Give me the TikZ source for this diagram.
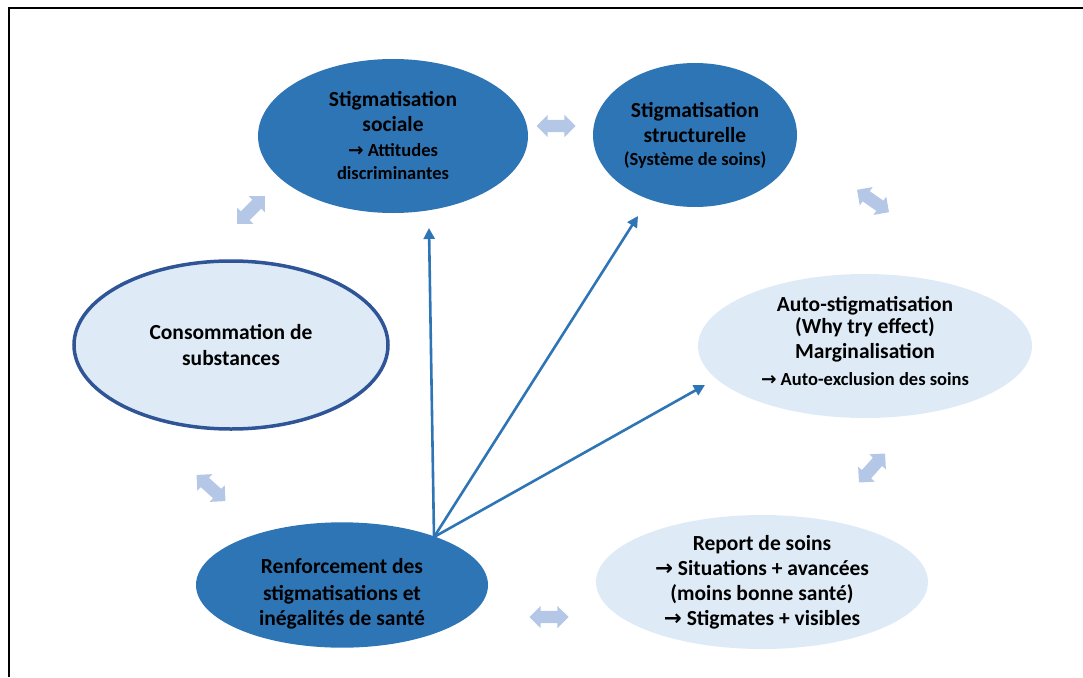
\documentclass[tikz,border=0pt]{standalone}
\usepackage{fontspec}
\setmainfont{Carlito}
\newfontfamily\arrfont{DejaVu Sans}
\usetikzlibrary{shapes.geometric,shapes.arrows,arrows.meta}
\definecolor{darkfill}{HTML}{2E75B6}
\definecolor{lightfill}{HTML}{DEEBF7}
\definecolor{rimblue}{HTML}{2F5597}
\definecolor{twowayblue}{HTML}{B4C7E7}
\newcommand{\myra}{{\arrfont\bfseries\symbol{"2192}}}
\newcommand{\fsml}{\fontsize{18.5}{22}\selectfont}
\begin{document}
\begin{tikzpicture}[x=1pt,y=-1pt,
  bubble/.style={ellipse, inner sep=0pt, align=center, text=black,
    font=\bfseries\fontsize{21.5}{25}\selectfont},
  darkbubble/.style={bubble, fill=darkfill},
  lightbubble/.style={bubble, fill=lightfill},
  link/.style={draw=darkfill, line width=2.6pt, -{Triangle[length=11pt,width=11pt]}},
  twoway/.style={double arrow, fill=twowayblue, inner xsep=0pt, inner ysep=6pt,
    minimum height=39pt, double arrow head extend=5pt}]
\useasboundingbox (0,0) rectangle (1083,677);
\draw[line width=2.5pt] (9,677) -- (9,8) -- (1083,8);

\node[darkbubble, minimum width=270pt, minimum height=154pt] (sociale) at (393,136)
  {Stigmatisation\\ sociale\\ {\fsml\myra\ Attitudes}\\[-2pt] {\fsml discriminantes}};
\node[darkbubble, minimum width=204pt, minimum height=144pt] (structurelle) at (695,135)
  {Stigmatisation\\ structurelle\\[-2pt] {\fsml (Système de soins)}};
\node[lightbubble, minimum width=334pt, minimum height=144pt] (auto) at (865,346)
  {Auto-stigmatisation\\[-3pt] (Why try effect)\\ Marginalisation\\[2pt] {\fsml\myra\ Auto-exclusion des soins\rule[-10pt]{0pt}{0pt}}};
\node[lightbubble, minimum width=332pt, minimum height=134pt] (report) at (762,582)
  {Report de soins\\ \myra\ Situations + avancées\\ (moins bonne santé)\\ \myra\ Stigmates + visibles};
\node[darkbubble, minimum width=292pt, minimum height=116pt] (renfo) at (342,585)
  {\rule{0pt}{33pt}Renforcement des\\[2pt] stigmatisations et\\[0pt] inégalités de santé};
\node[lightbubble, draw=rimblue, line width=3.5pt, minimum width=314pt, minimum height=168pt] (conso) at (231,345)
  {Consommation de\\[1pt] substances};

\coordinate (src) at (434,537);
\coordinate (tipA) at (429,228);
\coordinate (tipB) at (638,216);
\coordinate (tipC) at (705,385);
\draw[link] (src) -- (tipA);
\draw[link] (src) -- (tipB);
\draw[link] (src) -- (tipC);

\node[twoway] (tw1) at (556,126) {};
\node[twoway, rotate=45] (tw2) at (251,210) {};
\node[twoway, rotate=-35] (tw3) at (873,201) {};
\node[twoway, rotate=48] (tw4) at (872,468) {};
\node[twoway, rotate=-42] (tw5) at (211,488) {};
\node[twoway] (tw6) at (549,617) {};
\end{tikzpicture}
\end{document}
